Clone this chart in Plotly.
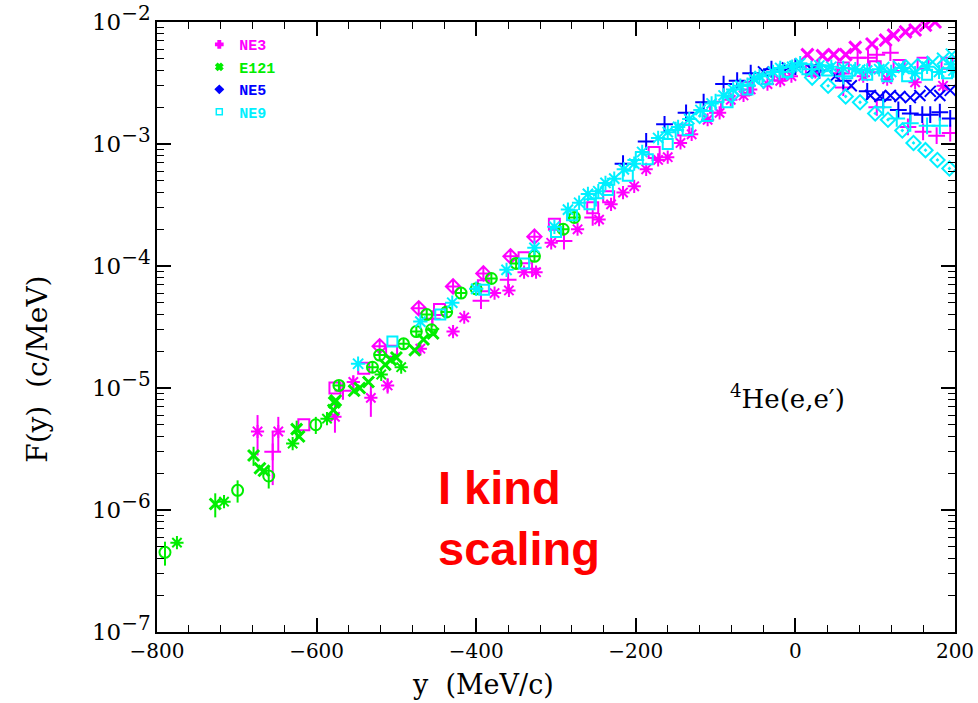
import plotly.graph_objects as go

# ---------------- data (y in MeV/c, F(y) in c/MeV) ----------------
# NE3 (magenta)
ne3_ast_y = [-674, -648, -577, -554, -532, -511, -470, -429, -415, -377, -359, -340, -325, -306,
             -273, -246, -231, -216, -202, -187, -172, -144, -110, -81, -56, -19]
ne3_ast_f = [4.4e-6, 4.4e-6, 5.8e-6, 1.12e-5, 8.3e-6, 1.05e-5, 2.1e-5, 2.9e-5, 3.8e-5, 6.0e-5, 6.3e-5,
             8.9e-5, 8.9e-5, 1.55e-4, 2.0e-4, 2.4e-4, 3.2e-4, 4.0e-4, 4.5e-4, 6.2e-4, 7.4e-4, 1.02e-3,
             1.58e-3, 2.3e-3, 2.8e-3, 3.3e-3]
ne3_ast_err = [1.6e-6, 1.4e-6, 1.5e-6, 1.5e-6, 2.5e-6, 1.5e-6, 2.5e-6, 2.5e-6, 0, 0, 0, 0, 0, 0,
               0, 0, 0, 0, 0, 0, 0, 0, 0, 0, 0, 0]
ne3_sq_y = [-616, -577, -541, -506, -446, -391, -340, -302, -254, -234, -177, -140, -100, -60, -20,
            20, 60, 100, 130, 160, 190]
ne3_sq_f = [5.0e-6, 1.0e-5, 1.45e-5, 2.0e-5, 4.4e-5, 6.9e-5, 1.17e-4, 2.2e-4, 3.0e-4, 3.7e-4, 8.5e-4,
            1.3e-3, 2.0e-3, 2.9e-3, 3.7e-3, 4.0e-3, 4.2e-3, 4.3e-3, 4.4e-3, 4.6e-3, 4.6e-3]
ne3_dia_y = [-521, -472, -429, -391, -357, -327]
ne3_dia_f = [2.2e-5, 4.5e-5, 6.8e-5, 8.7e-5, 1.2e-4, 1.74e-4]
ne3_plus_y = [-655, -567, -455, -394, -360, -330, -290, -254]
ne3_plus_f = [3.0e-6, 9.5e-6, 3.7e-5, 5.2e-5, 7.7e-5, 9.5e-5, 1.6e-4, 2.5e-4]
ne3_plus_err = [1.4e-6, 1.5e-6, 4e-6, 0, 0, 0, 0, 0]
ne3_plus_hi_y = [78, 91, 102, 119]
ne3_plus_hi_f = [5.1e-3, 5.1e-3, 5.4e-3, 5.6e-3]
ne3_plus_lo_y = [60, 102, 141, 160, 177, 194]
ne3_plus_lo_f = [2.9e-3, 2.0e-3, 1.38e-3, 1.26e-3, 1.17e-3, 1.23e-3]
ne3_x_y = [15, 34, 48, 63, 75, 96, 113, 123, 138, 150, 163, 175]
ne3_x_f = [5.4e-3, 5.3e-3, 5.4e-3, 5.4e-3, 6.2e-3, 6.6e-3, 7.1e-3, 7.8e-3, 8.3e-3, 8.6e-3, 9.4e-3, 1.0e-2]
ne3_ast2_y = [-160, -130, -95, -65, -35, -5, 25, 55, 85, 115, 150, 185]
ne3_ast2_f = [7.8e-4, 1.2e-3, 1.8e-3, 2.5e-3, 3.1e-3, 3.6e-3, 3.9e-3, 3.8e-3, 3.6e-3, 3.4e-3, 3.2e-3, 3.0e-3]

# E121 (green)
e121_circ_y = [-790, -699, -660, -601]
e121_circ_f = [4.5e-7, 1.45e-6, 1.9e-6, 5.0e-6]
e121_circ_err = [1.0e-7, 3.0e-7, 4.0e-7, 8e-7]
e121_ast_y = [-775, -716, -630, -587, -519, -494]
e121_ast_f = [5.4e-7, 1.17e-6, 3.5e-6, 5.6e-6, 1.29e-5, 1.48e-5]
e121_x_y = [-727, -679, -671, -666, -625, -622, -579, -578, -576, -553, -546, -535, -514, -507, -500,
            -477, -466, -454]
e121_x_f = [1.12e-6, 2.8e-6, 2.2e-6, 2.1e-6, 4.6e-6, 4.0e-6, 6.6e-6, 7.6e-6, 7.9e-6, 9.5e-6, 1.0e-5,
            1.12e-5, 1.55e-5, 1.7e-5, 1.78e-5, 2.04e-5, 2.5e-5, 2.8e-5]
e121_x_err = [2.5e-7, 5e-7, 0, 0, 8e-7, 0, 0, 0, 0, 0, 0, 0, 0, 0, 0, 0, 0, 0]
e121_oplus_y = [-572, -530, -521, -491, -475, -462, -456, -437, -419, -400, -381, -350, -327, -291, -277]
e121_oplus_f = [1.05e-5, 1.48e-5, 1.86e-5, 2.3e-5, 2.9e-5, 4.0e-5, 3.0e-5, 4.2e-5, 6.0e-5, 6.5e-5,
                7.9e-5, 1.05e-4, 1.2e-4, 2.0e-4, 2.5e-4]

# NE5 (blue)
ne5_plus_y = [-216, -187, -164, -137, -115, -90, -73, -56, -30, 0, 30, 60, 90, 110, 129, 144, 159,
              169, 181, 194]
ne5_plus_f = [6.9e-4, 1.05e-3, 1.45e-3, 1.8e-3, 2.2e-3, 3.1e-3, 3.3e-3, 3.8e-3, 4.1e-3, 4.3e-3,
              4.0e-3, 3.3e-3, 2.7e-3, 2.3e-3, 1.9e-3, 1.78e-3, 1.74e-3, 1.74e-3, 1.82e-3, 1.62e-3]
ne5_x_y = [-40, -10, 20, 50, 70, 94, 106, 119, 131, 144, 156, 169, 181, 194]
ne5_x_f = [3.9e-3, 4.2e-3, 4.1e-3, 3.6e-3, 3.0e-3, 2.5e-3, 2.45e-3, 2.5e-3, 2.45e-3, 2.4e-3, 2.5e-3,
           2.7e-3, 2.5e-3, 2.75e-3]

# NE9 (cyan)
ne9_ast_y = [-548, -470, -430, -400, -362, -327, -302, -271, -247, -227, -202, -172, -147, -119,
             -90, -69, -45, -19, 6, 30, 60, 90, 120, 150, 180, 198]
ne9_ast_f = [1.58e-5, 3.5e-5, 5.0e-5, 6.5e-5, 9.3e-5, 1.41e-4, 2.1e-4, 3.3e-4, 4.1e-4, 5.2e-4, 6.9e-4,
             1.12e-3, 1.38e-3, 1.9e-3, 2.5e-3, 3.0e-3, 3.6e-3, 4.2e-3, 4.6e-3, 4.4e-3, 4.2e-3,
             4.0e-3, 3.9e-3, 3.8e-3, 3.9e-3, 4.0e-3]
ne9_sq_y = [-505, -445, -390, -340, -300, -280, -258, -235, -210, -185, -160, -135, -110, -85, -60,
            -35, -10, 15, 40, 65, 90, 115, 140, 165, 190]
ne9_sq_f = [2.4e-5, 4.0e-5, 6.4e-5, 1.05e-4, 1.9e-4, 2.6e-4, 3.2e-4, 4.2e-4, 5.5e-4, 7.5e-4, 1.0e-3,
            1.3e-3, 1.7e-3, 2.2e-3, 2.8e-3, 3.4e-3, 3.9e-3, 4.1e-3, 4.0e-3, 3.8e-3, 3.7e-3, 3.6e-3,
            3.6e-3, 3.7e-3, 3.8e-3]
ne9_ast2_y = [-285, -260, -238, -215, -192, -160, -133, -105, -78, -52, -28, -4, 45, 75, 105, 135,
              165, 195]
ne9_ast2_f = [2.9e-4, 3.9e-4, 4.8e-4, 6.2e-4, 8.6e-4, 1.25e-3, 1.6e-3, 2.15e-3, 2.8e-3, 3.4e-3,
              3.9e-3, 4.3e-3, 4.3e-3, 4.1e-3, 4.1e-3, 4.2e-3, 4.3e-3, 4.5e-3]
ne9_dia_y = [-120, -80, -40, -10, 21, 41, 63, 81, 100, 116, 134, 148, 163, 178, 193]
ne9_dia_f = [1.7e-3, 2.5e-3, 3.3e-3, 3.9e-3, 3.5e-3, 3.0e-3, 2.45e-3, 2.2e-3, 1.78e-3, 1.58e-3,
             1.29e-3, 1.02e-3, 8.9e-4, 7.4e-4, 6.3e-4]
ne9_plus_y = [-250, -200, -150, -100, -60, -20, 20, 60, 110, 127, 144, 165, 181]
ne9_plus_f = [3.6e-4, 7.4e-4, 1.3e-3, 2.2e-3, 3.0e-3, 3.9e-3, 4.1e-3, 3.6e-3, 2.0e-3, 1.62e-3,
              1.48e-3, 1.41e-3, 1.41e-3]
ne9_x_y = [0, 40, 80, 110, 130, 145, 160, 172, 185, 196]
ne9_x_f = [4.3e-3, 4.1e-3, 4.0e-3, 4.2e-3, 4.3e-3, 4.4e-3, 4.5e-3, 4.7e-3, 5.0e-3, 5.4e-3]

y_tick_vals = [1e-7, 1e-6, 1e-5, 1e-4, 1e-3, 1e-2]
y_tick_exps = ["\u22127", "\u22126", "\u22125", "\u22124", "\u22123", "\u22122"]
y_tick_text = [f"10<sup><span style='font-size:20px'>{e}</span></sup>" for e in y_tick_exps]

MAG, GRN, BLU, CYN = "#ff00ff", "#00ee00", "#0000ff", "#00f0ff"

fig = go.Figure()


def add(x, y, color, symbol, size=11, err=None, width=2):
    tr = dict(x=x, y=y, mode="markers", showlegend=False, hoverinfo="skip",
              marker=dict(symbol=symbol, size=size, color=color,
                          line=dict(color=color, width=width)))
    if err is not None:
        tr["error_y"] = dict(type="data", array=err, thickness=2, width=0, color=color)
    fig.add_trace(go.Scatter(**tr))


# NE3
add(ne3_ast_y, ne3_ast_f, MAG, "asterisk-open", 11, ne3_ast_err)
add(ne3_ast2_y, ne3_ast2_f, MAG, "asterisk-open", 11)
add(ne3_sq_y, ne3_sq_f, MAG, "square-open", 11)
add(ne3_dia_y, ne3_dia_f, MAG, "diamond-cross-open", 11)
add(ne3_plus_y, ne3_plus_f, MAG, "cross-thin-open", 12, ne3_plus_err)
add(ne3_plus_hi_y, ne3_plus_hi_f, MAG, "cross-thin-open", 12)
add(ne3_plus_lo_y, ne3_plus_lo_f, MAG, "cross-thin-open", 12)
add(ne3_x_y, ne3_x_f, MAG, "x-thin-open", 12, None, 3)
# E121
add(e121_circ_y, e121_circ_f, GRN, "circle-open", 11, e121_circ_err)
add(e121_ast_y, e121_ast_f, GRN, "asterisk-open", 11)
add(e121_x_y, e121_x_f, GRN, "x-thin-open", 11, e121_x_err, 3)
add(e121_oplus_y, e121_oplus_f, GRN, "circle-cross-open", 11)
# NE5
add(ne5_plus_y, ne5_plus_f, BLU, "cross-thin-open", 12)
add(ne5_x_y, ne5_x_f, BLU, "x-thin-open", 11)
# NE9
add(ne9_ast_y, ne9_ast_f, CYN, "asterisk-open", 12)
add(ne9_ast2_y, ne9_ast2_f, CYN, "asterisk-open", 12)
add(ne9_sq_y, ne9_sq_f, CYN, "square-open", 10)
add(ne9_dia_y, ne9_dia_f, CYN, "diamond-open-dot", 11)
add(ne9_plus_y, ne9_plus_f, CYN, "cross-thin-open", 12)
add(ne9_x_y, ne9_x_f, CYN, "x-thin-open", 12)

# legend entries
legend_items = [("NE3", MAG, "cross"), ("E121", GRN, "x"), ("NE5", BLU, "diamond"),
                ("NE9", CYN, "square-open")]
for name, col, sym in legend_items:
    fig.add_trace(go.Scatter(
        x=[None], y=[None], mode="markers",
        name=f"<span style='color:{col}'><b>{name}</b></span>",
        marker=dict(symbol=sym, size=6, color=col, line=dict(color=col, width=1.5))))

minor_y = [k * 10.0 ** e for e in range(-7, -2) for k in range(2, 10)]

axis_common = dict(showline=True, linecolor="black", linewidth=1.5, mirror="allticks",
                   ticks="inside", tickcolor="black", tickwidth=1.5, showgrid=False,
                   zeroline=False, automargin=False)

fig.update_xaxes(range=[-800, 200], tick0=-800, dtick=200, ticklen=14,
                 tickfont=dict(family="DejaVu Serif", size=20, color="black"),
                 minor=dict(dtick=40, tick0=-800, ticks="inside", ticklen=7,
                            tickcolor="black", tickwidth=1.2),
                 **axis_common)
fig.update_yaxes(type="log", range=[-7, -2], tickvals=y_tick_vals, ticktext=y_tick_text,
                 ticklen=14,
                 tickfont=dict(family="DejaVu Serif", size=23, color="black"),
                 minor=dict(tickvals=minor_y, ticks="inside", ticklen=7,
                            tickcolor="black", tickwidth=1.2),
                 **axis_common)

fig.update_layout(
    width=978, height=703, autosize=False,
    margin=dict(l=157, r=23, t=22, b=71),
    plot_bgcolor="white", paper_bgcolor="white",
    font=dict(family="DejaVu Serif", color="black"),
    legend=dict(x=0.053, y=0.99, xanchor="left", yanchor="top", bgcolor="rgba(0,0,0,0)",
                font=dict(family="Liberation Mono", size=15), tracegroupgap=0,
                itemwidth=30),
    annotations=[
        dict(text="F(y)  (c/MeV)", xref="paper", yref="paper", x=-0.149, y=0.43,
             xanchor="center", yanchor="middle", textangle=-90, showarrow=False,
             font=dict(family="DejaVu Serif", size=28, color="black")),
        dict(text="y  (MeV/c)", xref="paper", yref="paper", x=0.409, y=-0.086,
             xanchor="center", yanchor="middle", showarrow=False,
             font=dict(family="DejaVu Serif", size=27, color="black")),
        dict(text="<sup>4</sup>He(e,e\u2032)", xref="paper", yref="paper", x=0.79, y=0.385,
             xanchor="center", yanchor="middle", showarrow=False,
             font=dict(family="DejaVu Serif", size=26, color="black")),
        dict(text="<b>I kind<br>scaling</b>", xref="paper", yref="paper", x=0.349, y=0.283,
             xanchor="left", yanchor="top", align="left", showarrow=False,
             font=dict(family="Liberation Sans", size=47, color="#ff0000")),
    ],
)

fig.write_html("out.html")
